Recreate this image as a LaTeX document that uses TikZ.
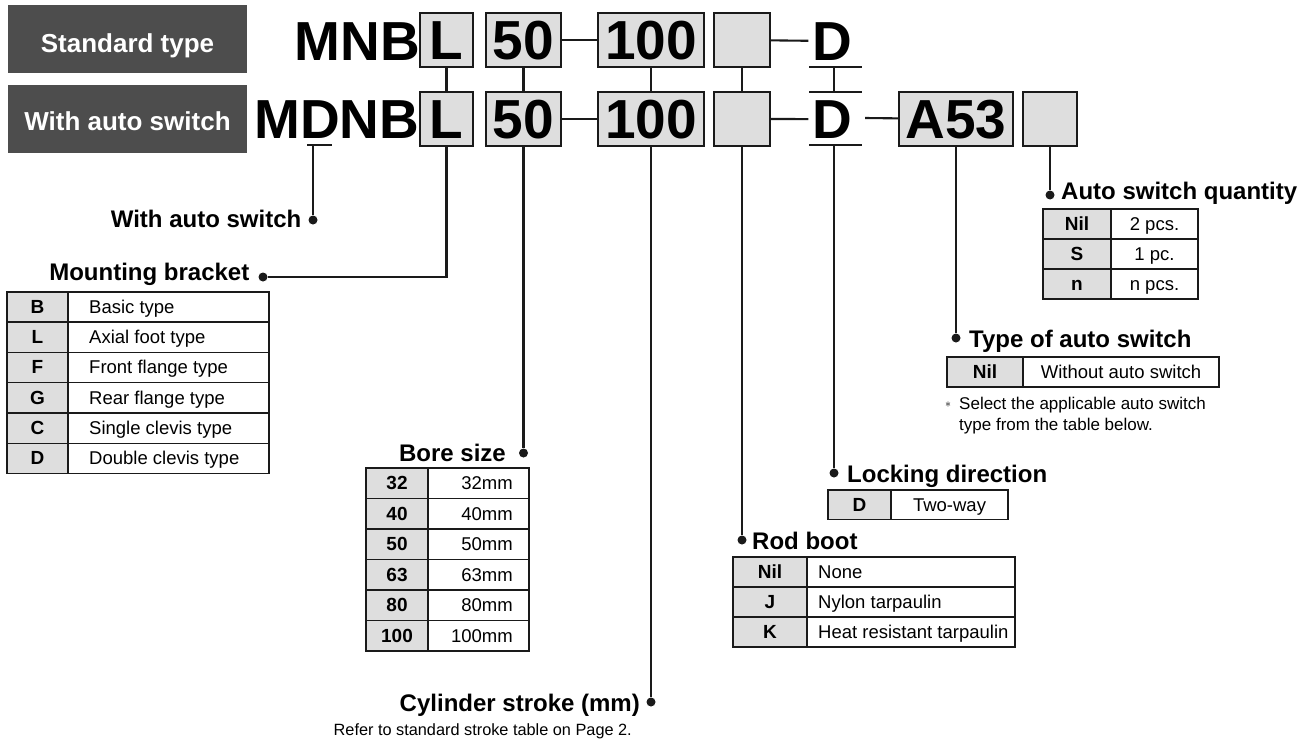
\documentclass[tikz,border=0pt]{standalone}
\usepackage{fontspec}
\setmainfont{Liberation Sans}
\newcommand\fsz[1]{\fontsize{#1}{#1}\selectfont}
\definecolor{hdr}{HTML}{4D4D4D}
\definecolor{boxfill}{HTML}{DEDEDE}
\definecolor{ink}{HTML}{1A1A1A}
\tikzset{
 hdrbox/.style={fill=hdr, draw=none, minimum width=239pt, minimum height=68pt, inner sep=0},
 hdrtext/.style={text=white, font=\fsz{26}\bfseries, inner sep=0, anchor=base},
 codebox/.style={draw=ink, line width=2pt, fill=boxfill, minimum height=54pt, inner sep=0, text height=39pt, text depth=0pt, font=\fsz{55}\bfseries},
 codetext/.style={font=\fsz{55}\bfseries, inner sep=0},
 conn/.style={draw=ink, line width=2.1pt},
 dotnode/.style={circle, fill=ink, inner sep=0, minimum size=9pt},
 lbltitle/.style={font=\fsz{24}\bfseries, inner sep=0},
 lblnote/.style={font=\fsz{16.3}, inner sep=0},
 keycell/.style={draw=ink, line width=1.3pt, fill=boxfill, inner sep=0, text height=13pt, text depth=0pt, font=\fsz{19}\bfseries},
 valcell/.style={draw=ink, line width=1.3pt, fill=white, inner sep=0},
 valtext/.style={inner sep=0, text height=13pt, text depth=0pt, font=\fsz{18.5}},
}
% #1 name, #2 xL, #3 yTop, #4 xDiv, #5 xR, #6 row height, #7 value x, #8 value anchor, #9 rows
\newcommand\codetable[9]{%
  \foreach \k/\v [count=\i] in {#9}{%
    \pgfmathsetmacro\ym{#3+(\i-0.5)*#6}%
    \pgfmathsetmacro\kw{#4-#2}%
    \pgfmathsetmacro\vw{#5-#4}%
    \pgfmathsetmacro\kx{(#2+#4)/2}%
    \pgfmathsetmacro\vx{(#4+#5)/2}%
    \node[keycell, minimum width=\kw pt, minimum height=#6 pt] (#1-k\i) at (\kx,\ym) {\k};
    \node[valcell, minimum width=\vw pt, minimum height=#6 pt] (#1-c\i) at (\vx,\ym) {};
    \node[valtext, anchor=#8] (#1-v\i) at (#7,\ym) {\v};
  }
  \draw[ink, line width=2.4pt] (#2,#3) -- (#5,#3);
}
\begin{document}
\begin{tikzpicture}[x=1pt,y=-1pt]
\useasboundingbox (0,0) rectangle (1306,739);

% header boxes
\node[hdrbox] (stdbox) at (127.5,39) {};
\node[hdrtext] (stdtxt) at (127.5,52) {Standard type};
\node[hdrbox] (aswbox) at (127.5,118.5) {};
\node[hdrtext] (aswtxt) at (127.5,130.5) {With auto switch};

% row 1
\node[codetext, anchor=base east] (mnb) at (420,60) {MNB};
\node[codebox, minimum width=53pt] (L1) at (446.5,40) {L};
\node[codebox, minimum width=75pt] (s1) at (523.5,40) {50};
\node[codebox, minimum width=106pt] (h1) at (651,40) {100};
\node[codebox, minimum width=56pt] (e1) at (742,40) {};
\node[codetext, anchor=base, inner xsep=4pt] (d1) at (832.5,60) {D};

% row 2
\node[codetext, anchor=base east] (mdnb) at (419.5,138) {MDNB};
\node[codebox, minimum width=53pt] (L2) at (446.5,119) {L};
\node[codebox, minimum width=75pt] (s2) at (523.5,119) {50};
\node[codebox, minimum width=106pt] (h2) at (651,119) {100};
\node[codebox, minimum width=56pt] (e2) at (742,119) {};
\node[codetext, anchor=base, inner xsep=4pt] (d2) at (832.5,138) {D};
\node[codebox, minimum width=114pt] (a2) at (956,119) {A53};
\node[codebox, minimum width=54pt] (e4) at (1050,119) {};

% coordinates for D rules
\coordinate (d1ul) at (809,67);  \coordinate (d1ur) at (862,67);  \coordinate (d1m) at (834,67);
\coordinate (d2ol) at (809,92);  \coordinate (d2or) at (862,92);  \coordinate (d2om) at (834,92);
\coordinate (d2ul) at (809,145); \coordinate (d2ur) at (862,145); \coordinate (d2m) at (834,145);
\coordinate (d2out) at (865,118);
\coordinate (mdl) at (307,145); \coordinate (mdr) at (332,145); \coordinate (mdm) at (313,145);

% horizontal connectors
\draw[conn] (s1) -- (h1);
\draw[conn] (e1) -- (d1);
\draw[conn] (s2) -- (h2);
\draw[conn] (e2) -- (d2);
\draw[conn] (d2out) -- (a2);
% D rules
\draw[conn] (d1ul) -- (d1ur);
\draw[conn] (d2ol) -- (d2or);
\draw[conn] (d2ul) -- (d2ur);
\draw[conn] (mdl) -- (mdr);
% vertical links between rows
\draw[conn] (L1) -- (L2);
\draw[conn] (s1) -- (s2);
\draw[conn] (h1) -- (h2);
\draw[conn] (e1) -- (e2);
\draw[conn] (d1m) -- (d2om);

% dots
\node[dotnode] (wadot) at (313,220) {};
\node[dotnode] (mbdot) at (263,277) {};
\node[dotnode] (bsdot) at (523.5,453) {};
\node[dotnode] (csdot) at (651,702) {};
\node[dotnode] (rbdot) at (742,540) {};
\node[dotnode] (lddot) at (834,473) {};
\node[dotnode] (tydot) at (956,338) {};
\node[dotnode] (qdot)  at (1050,195) {};

% leader lines
\draw[conn] (mdm) -- (wadot);
\draw[conn] (L2.south) |- (mbdot);
\draw[conn] (s2.south) -- (bsdot);
\draw[conn] (h2.south) -- (csdot);
\draw[conn] (e2.south) -- (rbdot);
\draw[conn] (d2m) -- (lddot);
\draw[conn] (a2.south) -- (tydot);
\draw[conn] (e4.south) -- (qdot);

% titles
\node[lbltitle, anchor=base east] (watitle) at (301.5,227) {With auto switch};
\node[lbltitle, anchor=base east] (mbtitle) at (249.5,280) {Mounting bracket};
\node[lbltitle, anchor=base east] (bstitle) at (506,461) {Bore size};
\node[lbltitle, anchor=base east] (cstitle) at (640,711) {Cylinder stroke (mm)};
\node[lblnote, anchor=base east] (csnote) at (632,735) {Refer to standard stroke table on Page 2.};
\node[lbltitle, anchor=base west] (qtitle) at (1061,199) {Auto switch quantity};
\node[lbltitle, anchor=base west] (tytitle) at (969,347) {Type of auto switch};
\node[lbltitle, anchor=base west] (ldtitle) at (847,482) {Locking direction};
\node[lbltitle, anchor=base west] (rbtitle) at (752,549) {Rod boot};

% tables
\codetable{mb}{7}{291.7}{68}{269}{30.3}{89}{west}{B/Basic type, L/Axial foot type, F/Front flange type, G/Rear flange type, C/Single clevis type, D/Double clevis type}
\codetable{bs}{366}{468}{428}{529}{30.5}{513}{east}{32/32mm, 40/40mm, 50/50mm, 63/63mm, 80/80mm, 100/100mm}
\codetable{qt}{1043}{209}{1111}{1198}{30}{1154.5}{center}{Nil/2 pcs., S/1 pc., n/n pcs.}
\codetable{ty}{947}{357}{1023}{1219}{30}{1121}{center}{Nil/Without auto switch}
\codetable{ld}{828}{490}{891}{1008}{29.5}{949.5}{center}{D/Two-way}
\codetable{rb}{733}{557}{807}{1015}{30}{818}{west}{Nil/None, J/Nylon tarpaulin, K/Heat resistant tarpaulin}

% type note
\node[inner sep=0, anchor=base west, font=\fsz{12}] (tyast) at (945,407) {$\ast$};
\node[inner sep=0, anchor=base west, font=\fsz{17}] (tynote1) at (959,409) {Select the applicable auto switch};
\node[inner sep=0, anchor=base west, font=\fsz{17}] (tynote2) at (959,430) {type from the table below.};
\end{tikzpicture}
\end{document}
